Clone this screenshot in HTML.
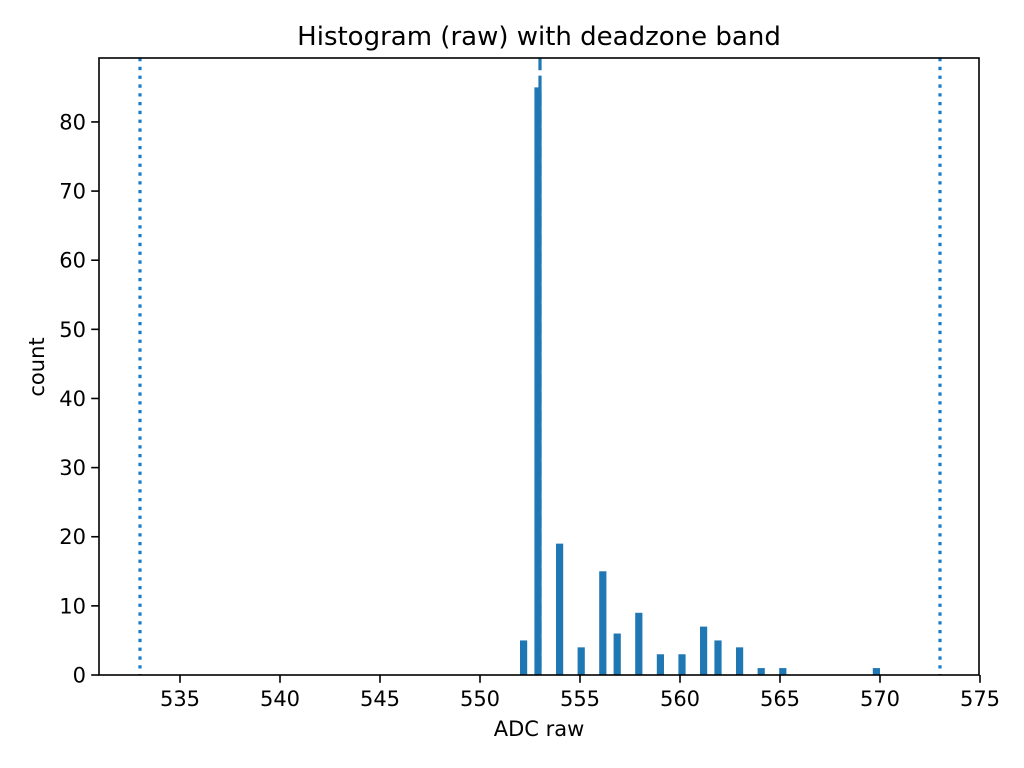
<!DOCTYPE html>
<html><head><meta charset="utf-8"><style>
html,body{margin:0;padding:0;background:#fff;}
svg{display:block;font-family:"DejaVu Sans","Liberation Sans",sans-serif;}
</style></head><body>
<svg id="chart" width="1024" height="768" viewBox="0 0 1024 768">
<rect x="0" y="0" width="1024" height="768" fill="#fff"/>
<text x="539" y="45" text-anchor="middle" font-size="26" fill="#000">Histogram (raw) with deadzone band</text>
<g id="bars"></g>
<g id="lines"></g>
<rect x="99" y="58" width="880" height="617" fill="none" stroke="#000" stroke-width="1.6"/>
<g id="xticks"></g>
<g id="yticks"></g>
<text x="539" y="736" text-anchor="middle" font-size="21">ADC raw</text>
<text x="44" y="367" text-anchor="middle" font-size="21" transform="rotate(-90 44 367)">count</text>
</svg>
<script>
const rawValues = [552,553,554,555,556,557,558,559,560,561,562,563,564,565,570];
const rawCounts = [5,85,19,4,15,6,9,3,3,7,5,4,1,1,1];
const xTicks = [535,540,545,550,555,560,565,570,575];
const yTicks = [0,10,20,30,40,50,60,70,80];
const deadzoneCenter = 553;
const deadzoneBand = [533,573];
const numBins = 50;

const L=99,R=979,T=58,B=675;
const xmin=530.95,xmax=574.95;
const ymax=Math.max(...rawCounts)*1.05;
const xs=v=>L+(v-xmin)/(xmax-xmin)*(R-L);
const ys=v=>B-v/ymax*(B-T);
const NS='http://www.w3.org/2000/svg';
function mk(tag,attrs,parent,text){const e=document.createElementNS(NS,tag);for(const k in attrs)e.setAttribute(k,attrs[k]);if(text!==undefined)e.textContent=text;parent.appendChild(e);return e;}

const lo=Math.min(...rawValues),hi=Math.max(...rawValues),bw=(hi-lo)/numBins;
const bins=new Array(numBins).fill(0);
rawValues.forEach((v,i)=>{let b=Math.floor((v-lo)/bw);if(b>=numBins)b=numBins-1;bins[b]+=rawCounts[i];});
const gb=document.getElementById('bars');
bins.forEach((c,i)=>{if(!c)return;
 const x0=xs(lo+i*bw),x1=xs(lo+(i+1)*bw);
 const r=mk('rect',{x:x0,y:ys(c),width:x1-x0,height:B-ys(c),fill:'#1f77b4'},gb);
 
 
});
const gl=document.getElementById('lines');
const dl=mk('line',{x1:xs(deadzoneCenter),x2:xs(deadzoneCenter),y1:T,y2:B,stroke:'#1f77b4','stroke-width':3.2,'stroke-dasharray':'12.3 5.3'},gl);


deadzoneBand.forEach(v=>{
 const l=mk('line',{x1:xs(v),x2:xs(v),y1:T,y2:B,stroke:'#1a7bc8','stroke-width':3.2,'stroke-dasharray':'3.3 5.5'},gl);
 
 
});
const gx=document.getElementById('xticks');
xTicks.forEach(t=>{const x=xs(t);
 mk('line',{x1:x,x2:x,y1:B,y2:B+7.8,stroke:'#000','stroke-width':1.6},gx);
 const tx=mk('text',{x:x,y:B+31,'text-anchor':'middle','font-size':21},gx,String(t));
 
 
});
const gy=document.getElementById('yticks');
yTicks.forEach(t=>{const y=ys(t);
 mk('line',{x1:L-7.8,x2:L,y1:y,y2:y,stroke:'#000','stroke-width':1.6},gy);
 const tx=mk('text',{x:L-13,y:y+7.5,'text-anchor':'end','font-size':21},gy,String(t));
 
 
});
</script>
</body></html>
